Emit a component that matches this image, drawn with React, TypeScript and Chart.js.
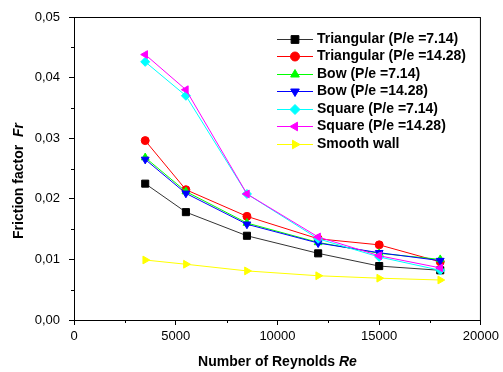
import React, { useEffect, useRef } from "react";
import { Chart, registerables } from "chart.js";
import { drawPoint } from "chart.js/helpers";

Chart.register(...registerables);

const reynolds = [3500, 5500, 8500, 12000, 15000, 18000];
const triangular714 = [0.0225, 0.0178, 0.0139, 0.0110, 0.0089, 0.0082];
const triangular1428 = [0.0296, 0.0215, 0.0171, 0.0134, 0.0124, 0.0096];
const bow714 = [0.0268, 0.0212, 0.0160, 0.0128, 0.0110, 0.0100];
const bow1428 = [0.0265, 0.0209, 0.0158, 0.0127, 0.0111, 0.0098];
const square714 = [0.0426, 0.0370, 0.0208, 0.0134, 0.0104, 0.0082];
const square1428 = [0.0438, 0.0380, 0.0208, 0.0137, 0.0106, 0.0086];
const smoothWall = [0.0099, 0.0092, 0.0081, 0.0073, 0.0069, 0.0066];

const seriesNames = [
  "Triangular (P/e =7.14)",
  "Triangular (P/e =14.28)",
  "Bow (P/e =7.14)",
  "Bow (P/e =14.28)",
  "Square (P/e =7.14)",
  "Square (P/e =14.28)",
  "Smooth wall",
];
const seriesValues = [triangular714, triangular1428, bow714, bow1428, square714, square1428, smoothWall];
const seriesColors = ["#000000", "#ff0000", "#00ff00", "#0000ff", "#00ffff", "#ff00ff", "#ffff00"];
const seriesLineColors = ["#333333", "#ff0000", "#00ff00", "#0000ff", "#00ffff", "#ff00ff", "#ffff00"];
const seriesShapes = ["rect", "circle", "triangle", "triangle", "rectRot", "triangle", "triangle"];
const seriesRotations = [0, 0, 0, 180, 0, -90, 90];
const seriesRadius = [5, 4, 4.5, 4.5, 4.5, 4.5, 4.5];

const xTicks = [0, 5000, 10000, 15000, 20000];
const xMinorTicks = [2500, 7500, 12500, 17500];
const yMinorTicks = [0.005, 0.015, 0.025, 0.035, 0.045];

const FONT = "'Liberation Sans', Arial, sans-serif";

const framePlugin = {
  id: "frame",
  afterDraw(chart: any) {
    const ctx = chart.ctx;
    const a = chart.chartArea;
    const xs = chart.scales.x;
    const ys = chart.scales.y;
    ctx.save();
    ctx.strokeStyle = "#000";
    ctx.lineWidth = 1;
    ctx.strokeRect(a.left + 0.5, a.top + 0.5, a.right - a.left - 1, a.bottom - a.top);
    ctx.beginPath();
    for (const v of xMinorTicks) {
      const px = Math.round(xs.getPixelForValue(v)) + 0.5;
      ctx.moveTo(px, a.bottom);
      ctx.lineTo(px, a.bottom + 3);
    }
    for (const v of yMinorTicks) {
      const py = Math.round(ys.getPixelForValue(v)) + 0.5;
      ctx.moveTo(a.left, py);
      ctx.lineTo(a.left - 3, py);
    }
    ctx.stroke();

    // axis titles
    ctx.fillStyle = "#000";
    ctx.textBaseline = "middle";
    const cx = (a.left + a.right) / 2;
    const p1 = "Number of Reynolds ";
    const p2 = "Re";
    ctx.font = `bold 14px ${FONT}`;
    const w1 = ctx.measureText(p1).width;
    ctx.font = `italic bold 14px ${FONT}`;
    const w2 = ctx.measureText(p2).width;
    const sx = cx - (w1 + w2) / 2;
    ctx.textAlign = "left";
    ctx.font = `bold 14px ${FONT}`;
    ctx.fillText(p1, sx, 362);
    ctx.font = `italic bold 14px ${FONT}`;
    ctx.fillText(p2, sx + w1, 362);

    ctx.translate(19, 181);
    ctx.rotate(-Math.PI / 2);
    const q1 = "Friction factor  ";
    const q2 = "Fr";
    ctx.font = `bold 14px ${FONT}`;
    const v1 = ctx.measureText(q1).width;
    ctx.font = `italic bold 14px ${FONT}`;
    const v2 = ctx.measureText(q2).width;
    const s2 = -(v1 + v2) / 2;
    ctx.font = `bold 14px ${FONT}`;
    ctx.fillText(q1, s2, 0);
    ctx.font = `italic bold 14px ${FONT}`;
    ctx.fillText(q2, s2 + v1, 0);
    ctx.restore();

    // legend
    ctx.save();
    ctx.font = `bold 14px ${FONT}`;
    ctx.textBaseline = "middle";
    ctx.textAlign = "left";
    for (let i = 0; i < seriesNames.length; i++) {
      const y = 38.5 + i * 17.5;
      ctx.strokeStyle = seriesLineColors[i];
      ctx.lineWidth = 1;
      ctx.beginPath();
      ctx.moveTo(277, Math.round(y) + 0.5);
      ctx.lineTo(313, Math.round(y) + 0.5);
      ctx.stroke();
      ctx.fillStyle = seriesColors[i];
      ctx.strokeStyle = seriesColors[i];
      drawPoint(ctx, {
        pointStyle: seriesShapes[i],
        rotation: seriesRotations[i],
        radius: seriesRadius[i] + 0.5,
        borderWidth: 1,
      } as any, 295, Math.round(y) + 0.5);
      ctx.fillStyle = "#000";
      ctx.fillText(seriesNames[i], 317, y + 0.5);
    }
    ctx.restore();
  },
};

export default function App() {
  const ref = useRef<HTMLCanvasElement>(null);
  useEffect(() => {
    if (!ref.current) return;
    const chart = new Chart(ref.current, {
      type: "line",
      data: {
        datasets: seriesNames.map((name, i) => ({
          label: name,
          data: reynolds.map((x, j) => ({ x, y: seriesValues[i][j] })),
          borderColor: seriesLineColors[i],
          backgroundColor: seriesColors[i],
          pointBackgroundColor: seriesColors[i],
          pointBorderColor: seriesColors[i],
          pointStyle: seriesShapes[i] as any,
          rotation: seriesRotations[i],
          pointRadius: seriesRadius[i],
          borderWidth: 1,
          pointBorderWidth: 1,
          tension: 0,
          order: 10 - i,
        })),
      },
      options: {
        animation: false,
        responsive: false,
        layout: { padding: { left: 0, right: 22, top: 17, bottom: 0 } },
        plugins: { legend: { display: false }, tooltip: { enabled: false } },
        scales: {
          x: {
            type: "linear",
            min: 0,
            max: 20000,
            afterFit(scale: any) {
              scale.height = 52;
            },
            afterBuildTicks(scale: any) {
              scale.ticks = xTicks.map((v) => ({ value: v }));
            },
            ticks: {
              color: "#000",
              font: { family: FONT, size: 13 },
              padding: 4,
              maxRotation: 0,
              callback: (v: any) => String(v),
            },
            grid: { drawOnChartArea: false, drawTicks: true, tickLength: 5, color: "#000" },
            border: { display: true, color: "#000" },
          },
          y: {
            type: "linear",
            min: 0,
            max: 0.05,
            afterFit(scale: any) {
              scale.width = 74;
            },
            ticks: {
              stepSize: 0.01,
              color: "#000",
              font: { family: FONT, size: 13 },
              padding: 9,
              callback: (v: any) => Number(v).toFixed(2).replace(".", ","),
            },
            grid: { drawOnChartArea: false, drawTicks: true, tickLength: 5, color: "#000" },
            border: { display: true, color: "#000" },
          },
        },
      },
      plugins: [framePlugin],
    });
    return () => chart.destroy();
  }, []);
  return (
    <div style={{ position: "fixed", left: 0, top: 0, width: 503, height: 372, background: "#fff" }}>
      <canvas ref={ref} width={503} height={372} style={{ width: 503, height: 372, display: "block" }} />
    </div>
  );
}
